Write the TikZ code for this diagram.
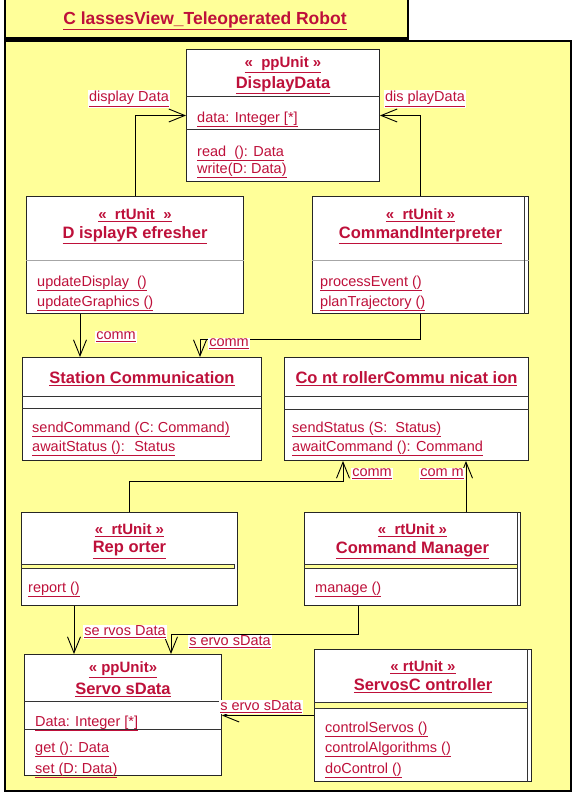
\documentclass[tikz,border=0pt]{standalone}
\usepackage{fontspec}
\setmainfont{Liberation Sans}
\usetikzlibrary{arrows.meta,calc}

\definecolor{umlred}{RGB}{190,16,58}
\definecolor{umlyellow}{RGB}{255,255,153}
\newcommand{\undl}[1]{\underline{#1}}

\tikzset{
  frame/.style={draw=black, line width=2.2pt},
  cls/.style={draw=black!85, fill=white, line width=1pt, anchor=north west, inner sep=0pt},
  divider/.style={draw=black!80, line width=0.9pt},
  band/.style={draw=black!80, fill=umlyellow, line width=0.9pt},
  title/.style={text=umlred, font=\bfseries\fontsize{17.5}{19}\selectfont, inner sep=0pt, yshift=-2pt},
  stereo/.style={text=umlred, font=\bfseries\fontsize{15}{17}\selectfont, inner sep=0pt, yshift=-2pt},
  clsname/.style={text=umlred, font=\bfseries\fontsize{16.5}{18}\selectfont, inner sep=0pt, yshift=-2pt},
  member/.style={text=umlred, font=\fontsize{14.5}{16}\selectfont, inner sep=0pt, anchor=west, yshift=-2.5pt},
  lbl/.style={text=umlred, fill=white, font=\fontsize{14.5}{16}\selectfont, inner sep=1pt},
  assoc/.style={draw=black, line width=0.9pt, -{Straight Barb[length=16pt,width=13pt]}},
}

\begin{document}
\begin{tikzpicture}[x=1pt,y=-1pt]
  \fill[white] (0,0) rectangle (572,793);
  \useasboundingbox (0,0) rectangle (572,793);

  % package frame and its tab
  \draw[frame, fill=umlyellow] (5,-5) rectangle (408,38.5);
  \draw[frame, fill=umlyellow] (5,41) rectangle (571,791);
  \node[title] (title) at (205,19) {\undl{C lassesView\_Teleoperated Robot}};

  % class boxes
  \node[cls, minimum width=193pt, minimum height=132pt] (ddata) at (186,49) {};
  \node[cls, minimum width=217pt, minimum height=117pt] (refresher) at (26,196) {};
  \node[cls, minimum width=216pt, minimum height=117pt] (interp) at (312,196) {};
  \node[cls, minimum width=239pt, minimum height=103pt] (station) at (22,357) {};
  \node[cls, minimum width=244pt, minimum height=103pt] (ctrl) at (284,357) {};
  \node[cls, minimum width=216pt, minimum height=93pt] (reporter) at (21,512) {};
  \node[cls, minimum width=216pt, minimum height=93pt] (manager) at (304,512) {};
  \node[cls, minimum width=197pt, minimum height=121pt] (sdata) at (24,654) {};
  \node[cls, minimum width=217pt, minimum height=132pt] (sctrl) at (314,649) {};

  % compartments
  \draw[divider] (ddata.west |- 0,96) -- (ddata.east |- 0,96);
  \draw[divider] (ddata.west |- 0,129) -- (ddata.east |- 0,129);
  \draw[divider, black!35] (refresher.west |- 0,260) -- (refresher.east |- 0,260);
  \draw[divider, black!35] (interp.west |- 0,260) -- (interp.east |- 0,260);
  \draw[divider] ($(interp.north east)+(-5,0)$) -- ($(interp.south east)+(-5,0)$);
  \draw[divider] (station.west |- 0,396) -- (station.east |- 0,396);
  \draw[divider] (station.west |- 0,408) -- (station.east |- 0,408);
  \draw[divider] (ctrl.west |- 0,396) -- (ctrl.east |- 0,396);
  \draw[divider] (ctrl.west |- 0,409) -- (ctrl.east |- 0,409);
  \draw[band] (reporter.west |- 0,564) rectangle ($(reporter.east |- 0,568)+(-4,0)$);
  \draw[band] (manager.west |- 0,564) rectangle ($(manager.east |- 0,568)+(-4,0)$);
  \draw[divider] ($(manager.north east)+(-4,0)$) -- ($(manager.south east)+(-4,0)$);
  \draw[divider] (sdata.west |- 0,701) -- (sdata.east |- 0,701);
  \draw[divider] (sdata.west |- 0,729) -- (sdata.east |- 0,729);
  \draw[band] (sctrl.west |- 0,702) rectangle ($(sctrl.east |- 0,708)+(-5,0)$);
  \draw[divider] ($(sctrl.north east)+(-5,0)$) -- ($(sctrl.south east)+(-5,0)$);

  % DisplayData
  \node[stereo] (ddatast) at (ddata.north |- 0,63) {\undl{«~ ppUnit »}};
  \node[clsname] (ddatanm) at (ddata.north |- 0,83) {\undl{DisplayData}};
  \node[member] (ddataat) at (197,117) {\undl{data: Integer [*]}};
  \node[member] (ddataop1) at (197,151) {\undl{read~ (): Data}};
  \node[member] (ddataop2) at (197,168) {\undl{write(D: Data)}};

  % DisplayRefresher
  \node[stereo] (refresherst) at (refresher.north |- 0,213) {\undl{«~ rtUnit~ »}};
  \node[clsname] (refreshernm) at (refresher.north |- 0,233) {\undl{D isplayR efresher}};
  \node[member] (refresherop1) at (37,281) {\undl{updateDisplay~ ()}};
  \node[member] (refresherop2) at (37,301) {\undl{updateGraphics ()}};

  % CommandInterpreter
  \node[stereo] (interpst) at (interp.north |- 0,213) {\undl{«~ rtUnit »}};
  \node[clsname] (interpnm) at (interp.north |- 0,233) {\undl{CommandInterpreter}};
  \node[member] (interpop1) at (320,281) {\undl{processEvent ()}};
  \node[member] (interpop2) at (320,301) {\undl{planTrajectory ()}};

  % Station Communication
  \node[clsname] (stationnm) at (station.north |- 0,377) {\undl{Station Communication}};
  \node[member] (stationop1) at (32,427) {\undl{sendCommand (C: Command)}};
  \node[member] (stationop2) at (32,446) {\undl{awaitStatus ():~ Status}};

  % ControllerCommunication
  \node[clsname] (ctrlnm) at (ctrl.north |- 0,377) {\undl{Co nt rollerCommu nicat ion}};
  \node[member] (ctrlop1) at (292,427) {\undl{sendStatus (S:~ Status)}};
  \node[member] (ctrlop2) at (292,446) {\undl{awaitCommand (): Command}};

  % Reporter
  \node[stereo] (reporterst) at (reporter.north |- 0,528) {\undl{«~ rtUnit »}};
  \node[clsname] (reporternm) at (reporter.north |- 0,548) {\undl{Rep orter}};
  \node[member] (reporterop) at (28,587) {\undl{report ()}};

  % Command Manager
  \node[stereo] (managerst) at (manager.north |- 0,528) {\undl{«~ rtUnit »}};
  \node[clsname] (managernm) at (manager.north |- 0,548) {\undl{Command Manager}};
  \node[member] (managerop) at (315,587) {\undl{manage ()}};

  % ServosData
  \node[stereo] (sdatast) at (sdata.north |- 0,668) {\undl{« ppUnit»}};
  \node[clsname] (sdatanm) at (sdata.north |- 0,688) {\undl{Servo sData}};
  \node[member] (sdataat) at (35,721) {\undl{Data: Integer [*]}};
  \node[member] (sdataop1) at (35,747) {\undl{get (): Data}};
  \node[member] (sdataop2) at (35,768) {\undl{set (D: Data)}};

  % ServosController
  \node[stereo] (sctrlst) at (sctrl.north |- 0,665) {\undl{« rtUnit »}};
  \node[clsname] (sctrlnm) at (sctrl.north |- 0,684) {\undl{ServosC ontroller}};
  \node[member] (sctrlop1) at (325,727) {\undl{controlServos ()}};
  \node[member] (sctrlop2) at (325,747) {\undl{controlAlgorithms ()}};
  \node[member] (sctrlop3) at (325,768) {\undl{doControl ()}};

  % associations
  \draw[assoc] (refresher.north) |- (ddata.west);
  \draw[assoc] (interp.north) |- (ddata.east);
  \draw[assoc] ($(refresher.south west)+(54,0)$) -- ($(station.north west)+(58,0)$);
  \draw[assoc] (interp.south) -- ++(0,25) -| ($(station.north west)+(178,0)$);
  \draw[assoc] (reporter.north) -- ++(0,-31) -| ($(ctrl.south west)+(59,0)$);
  \draw[assoc] ($(manager.north west)+(162,0)$) -- ($(ctrl.south west)+(182,0)$);
  \draw[assoc] ($(reporter.south west)+(53,0)$) -- ($(sdata.north west)+(50,0)$);
  \draw[assoc] ($(manager.south west)+(54,0)$) -- ++(0,28) -| ($(sdata.north west)+(147,0)$);
  \draw[assoc] (sctrl.west) -- (sctrl.west -| sdata.east);

  % role labels
  \node[lbl] (rl1) at (129,99) {\undl{display Data}};
  \node[lbl] (rl2) at (425,99) {\undl{dis playData}};
  \node[lbl] (rl3) at (116,337) {\undl{comm}};
  \node[lbl] (rl4) at (229,344) {\undl{comm}};
  \node[lbl] (rl5) at (372,474) {\undl{comm}};
  \node[lbl] (rl6) at (442,474) {\undl{com m}};
  \node[lbl] (rl7) at (125,632) {\undl{se rvos Data}};
  \node[lbl] (rl8) at (230,642) {\undl{s ervo sData}};
  \node[lbl] (rl9) at (261,707) {\undl{s ervo sData}};
\end{tikzpicture}
\end{document}
